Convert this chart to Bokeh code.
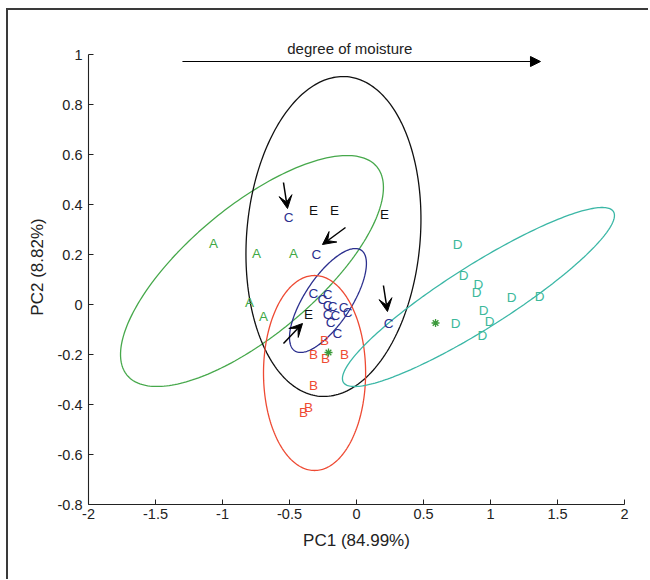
import numpy as np
from bokeh.plotting import figure
from bokeh.models import (Range1d, FixedTicker, Arrow, VeeHead, NormalHead,
                          ColumnDataSource, Label)
from bokeh.embed import file_html
from bokeh.resources import INLINE
from bokeh.core.properties import value

# ---------------- data ----------------
A_x = [-1.067, -0.746, -0.470, -0.799, -0.694]
A_y = [0.244, 0.204, 0.204, 0.010, -0.048]

B_x = [-0.239, -0.321, -0.231, -0.090, -0.321, -0.358, -0.396]
B_y = [-0.144, -0.200, -0.216, -0.200, -0.324, -0.412, -0.432]

C_x = [-0.507, -0.299, 0.239,
       -0.321, -0.216, -0.254, -0.216, -0.179, -0.216, -0.157, -0.194,
       -0.097, -0.067, -0.142]
C_y = [0.348, 0.200, -0.076,
       0.044, 0.040, 0.020, -0.004, -0.008, -0.040, -0.044, -0.072,
       -0.012, -0.032, -0.116]

D_x = [0.754, 0.799, 0.910, 0.896, 1.157, 1.366, 0.948, 0.993, 0.739, 0.940]
D_y = [0.240, 0.116, 0.080, 0.048, 0.028, 0.032, -0.024, -0.068, -0.076, -0.124]

E_x = [-0.321, -0.164, 0.209, -0.358]
E_y = [0.378, 0.378, 0.360, -0.040]

star_x = [-0.209, 0.590]
star_y = [-0.192, -0.074]

# ellipses: centre and conjugate semi-axes (data units)
ell_group = ["A", "E", "C", "B", "D"]
ell_cx = [-0.780, -0.172, -0.213, -0.313, 0.910]
ell_cy = [0.134, 0.272, 0.016, -0.274, 0.030]
ell_rx = [0.981, 0.653, 0.287, 0.381, 1.015]
ell_dy = [0.334, 0.070, 0.148, 0.000, 0.326]
ell_ry = [0.319, 0.636, 0.146, 0.390, 0.148]

# pointer arrows (start -> end)
arr_x0 = [-0.545, -0.082, -0.545, 0.201]
arr_y0 = [0.488, 0.308, -0.156, 0.076]
arr_x1 = [-0.515, -0.254, -0.403, 0.231]
arr_y1 = [0.384, 0.240, -0.076, -0.028]

moist_x = [-1.299, 1.373]
moist_y = 0.972
moist_label = "degree of moisture"
moist_label_x = -0.05

x_ticks = [-2, -1.5, -1, -0.5, 0, 0.5, 1, 1.5, 2]
x_tick_labels = ["-2", "-1.5", "-1", "-0.5", "0", "0.5", "1", "1.5", "2"]
y_ticks = [-0.8, -0.6, -0.4, -0.2, 0, 0.2, 0.4, 0.6, 0.8, 1]
y_tick_labels = ["-0.8", "-0.6", "-0.4", "-0.2", "0", "0.2", "0.4", "0.6", "0.8", "1"]

x_label = "PC1 (84.99%)"
y_label = "PC2 (8.82%)"

# ---------------- styles ----------------
col = {"A": "#3FA845", "B": "#EE4A33", "C": "#2B2F8E", "D": "#3BB99B", "E": "#111111"}
ell_col = {"A": "#46A84B", "B": "#EE4A33", "C": "#2B2F8E", "D": "#3BB7A6", "E": "#111111"}
FONT = "Liberation Sans"

p = figure(width=642, height=571, output_backend="svg", toolbar_location=None,
           x_range=Range1d(-2, 2), y_range=Range1d(-0.8, 1.1),
           min_border_left=80, min_border_right=26, min_border_top=19,
           min_border_bottom=77)
p.styles = {"margin-left": "6px", "margin-top": "8px",
            "border-left": "2px solid #3a3a3a", "border-top": "2px solid #3a3a3a"}
p.outline_line_color = None
p.xgrid.visible = False
p.ygrid.visible = False
p.background_fill_color = "white"

for ax in (p.xaxis[0], p.yaxis[0]):
    ax.axis_line_color = "#222222"
    ax.axis_line_width = 1.1
    ax.major_tick_in = 5
    ax.major_tick_out = 0
    ax.major_tick_line_color = "#222222"
    ax.minor_tick_line_color = None
    ax.major_label_text_font = FONT
    ax.major_label_text_font_size = "14.5px"
    ax.major_label_text_color = "#222222"
    ax.axis_label_text_font = FONT
    ax.axis_label_text_font_size = "17px"
    ax.axis_label_text_font_style = "normal"
    ax.axis_label_text_color = "#222222"

p.yaxis.bounds = (-0.8, 1)
p.xaxis.ticker = FixedTicker(ticks=x_ticks)
p.yaxis.ticker = FixedTicker(ticks=y_ticks)
p.xaxis.major_label_overrides = {t: l for t, l in zip(x_ticks, x_tick_labels)}
p.yaxis.major_label_overrides = {t: l for t, l in zip(y_ticks, y_tick_labels)}
p.xaxis.axis_label = x_label
p.yaxis.axis_label = y_label
p.xaxis.major_label_standoff = 4
p.yaxis.major_label_standoff = 6
p.xaxis.axis_label_standoff = 9
p.yaxis.axis_label_standoff = 8

# ellipses
t = np.linspace(0, 2 * np.pi, 241)
for g, cx, cy, rx, dy, ry in zip(ell_group, ell_cx, ell_cy, ell_rx, ell_dy, ell_ry):
    ex = cx + rx * np.cos(t)
    ey = cy + dy * np.cos(t) + ry * np.sin(t)
    p.line(ex, ey, line_color=ell_col[g], line_width=1.3)

# letters
groups = [("A", A_x, A_y), ("B", B_x, B_y), ("C", C_x, C_y), ("D", D_x, D_y), ("E", E_x, E_y)]
for g, xs, ys in groups:
    src = ColumnDataSource(dict(x=xs, y=ys, t=[g] * len(xs)))
    p.text(x="x", y="y", text="t", source=src, text_color=col[g],
           text_font=value(FONT), text_font_size="13.5px",
           text_align="center", text_baseline="middle")

# centroid stars
p.scatter(star_x, star_y, marker="asterisk", size=8, line_color="#3C9A3C", line_width=1.3)

# pointer arrows
asrc = ColumnDataSource(dict(x0=arr_x0, y0=arr_y0, x1=arr_x1, y1=arr_y1))
p.add_layout(Arrow(end=VeeHead(size=13, fill_color="black", line_color="black"),
                   x_start="x0", y_start="y0", x_end="x1", y_end="y1",
                   source=asrc, line_width=1.5, line_color="black"))

# moisture arrow
p.add_layout(Arrow(end=NormalHead(size=10, fill_color="black", line_color="black"),
                   x_start=moist_x[0], y_start=moist_y, x_end=moist_x[1], y_end=moist_y,
                   line_width=1.2, line_color="black"))
p.add_layout(Label(x=moist_label_x, y=moist_y, text=moist_label,
                   text_font=FONT, text_font_size="15px", text_color="#222222",
                   text_align="center", text_baseline="bottom", y_offset=5))

open("out.html", "w").write(file_html(p, INLINE))
